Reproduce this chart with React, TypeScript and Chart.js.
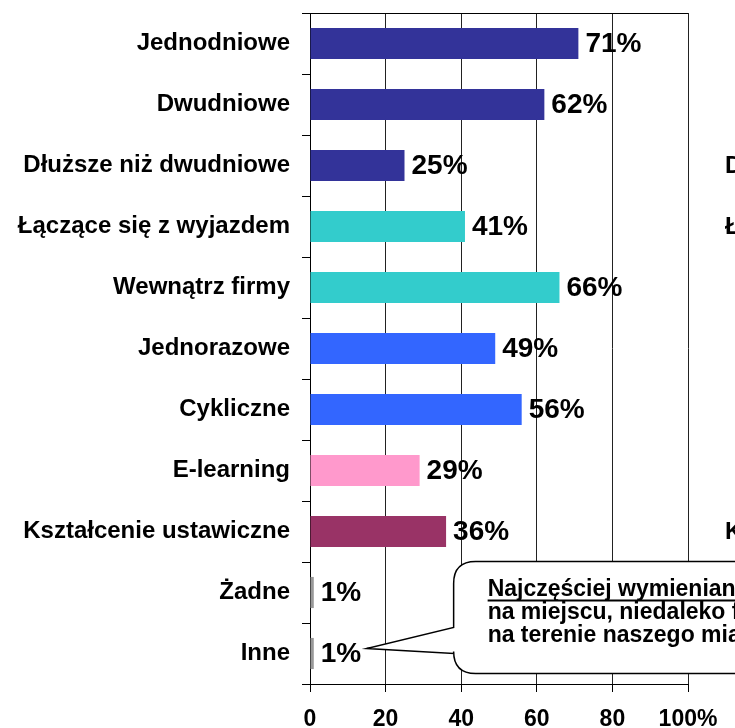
import React, { useEffect, useRef } from "react";
import { Chart, registerables } from "chart.js";

Chart.register(...registerables);

const categories = [
  "Jednodniowe",
  "Dwudniowe",
  "Dłuższe niż dwudniowe",
  "Łączące się z wyjazdem",
  "Wewnątrz firmy",
  "Jednorazowe",
  "Cykliczne",
  "E-learning",
  "Kształcenie ustawiczne",
  "Żadne",
  "Inne",
];
const values = [71, 62, 25, 41, 66, 49, 56, 29, 36, 1, 1];
const barColors = [
  "#333399",
  "#333399",
  "#333399",
  "#33CCCC",
  "#33CCCC",
  "#3366FF",
  "#3366FF",
  "#FF99CC",
  "#993366",
  "#999999",
  "#999999",
];
const xTickLabels = ["0", "20", "40", "60", "80", "100%"];
const calloutLines = [
  "Najczęściej wymieniane miejsca szkoleń:",
  "na miejscu, niedaleko firmy",
  "na terenie naszego miasta",
];
const sideLabelRows = [2, 3, 8];
const sideLabelTexts = [
  "Dłuższe niż dwudniowe",
  "Łączące się z wyjazdem",
  "Kształcenie ustawiczne",
];

const FONT = "'Liberation Sans', Arial, sans-serif";

const overlayPlugin = {
  id: "overlay",
  afterDatasetsDraw(chart: any) {
    const ctx = chart.ctx;
    const meta = chart.getDatasetMeta(0);
    ctx.save();
    ctx.fillStyle = "#000";
    ctx.font = `bold 28px ${FONT}`;
    ctx.textAlign = "left";
    ctx.textBaseline = "middle";
    meta.data.forEach((bar: any, i: number) => {
      ctx.fillText(`${values[i]}%`, bar.x + 7, bar.y + 1);
    });
    ctx.restore();

    // callout
    const xs = chart.scales.x;
    const ys = chart.scales.y;
    const tipX = xs.getPixelForValue(15);
    const tipY = ys.getPixelForValue(10) - 5;
    const left = xs.getPixelForValue(38);
    const top = ys.getPixelForValue(9) - 31;
    const bottom = ys.getPixelForValue(10) + 20;
    const right = chart.width + 60;
    const r = 22;
    const baseTop = top + 66;
    const baseBot = top + 92;
    ctx.save();
    ctx.beginPath();
    ctx.moveTo(left + r, top);
    ctx.lineTo(right, top);
    ctx.lineTo(right, bottom);
    ctx.lineTo(left + r, bottom);
    ctx.quadraticCurveTo(left, bottom, left, bottom - r);
    ctx.lineTo(left, baseBot);
    ctx.lineTo(tipX, tipY);
    ctx.lineTo(left, baseTop);
    ctx.lineTo(left, top + r);
    ctx.quadraticCurveTo(left, top, left + r, top);
    ctx.closePath();
    ctx.fillStyle = "#fff";
    ctx.fill();
    ctx.lineWidth = 1.5;
    ctx.strokeStyle = "#000";
    ctx.stroke();

    ctx.fillStyle = "#000";
    ctx.font = `bold 23px ${FONT}`;
    ctx.textAlign = "left";
    ctx.textBaseline = "alphabetic";
    const tx = left + 34;
    calloutLines.forEach((line, i) => {
      const by = top + 34 + i * 23;
      ctx.fillText(line, tx, by);
      if (i === 0) {
        const w = ctx.measureText(line).width;
        ctx.fillRect(tx, by + 4, w, 2);
      }
    });
    ctx.restore();

    // partially visible labels of neighbouring chart
    ctx.save();
    ctx.fillStyle = "#000";
    ctx.font = `bold 24px ${FONT}`;
    ctx.textAlign = "left";
    ctx.textBaseline = "middle";
    sideLabelRows.forEach((row, i) => {
      ctx.fillText(sideLabelTexts[i], 725, ys.getPixelForValue(row) + 1);
    });
    ctx.restore();
  },
};

export default function App() {
  const canvasRef = useRef<HTMLCanvasElement | null>(null);

  useEffect(() => {
    document.body.style.margin = "0";
    const canvas = canvasRef.current;
    if (!canvas) return;
    const chart = new Chart(canvas, {
      type: "bar",
      data: {
        labels: categories,
        datasets: [
          {
            data: values,
            backgroundColor: barColors,
            borderWidth: 0,
            barPercentage: 0.51,
            categoryPercentage: 1.0,
          },
        ],
      },
      options: {
        indexAxis: "y",
        animation: false,
        responsive: true,
        maintainAspectRatio: false,
        layout: { padding: { top: 13, right: 47, left: 0, bottom: 0 } },
        plugins: {
          legend: { display: false },
          tooltip: { enabled: false },
          title: { display: false },
        },
        scales: {
          x: {
            type: "linear",
            min: 0,
            max: 100,
            afterFit: (s: any) => {
              s.height = 44;
              s.paddingLeft = 0;
              s.paddingRight = 0;
            },
            ticks: {
              stepSize: 20,
              autoSkip: false,
              maxRotation: 0,
              padding: 14,
              color: "#000",
              font: { family: FONT, size: 23, weight: "bold" },
              callback: (_v: any, i: number) => xTickLabels[i],
            },
            grid: {
              color: "#222",
              lineWidth: 1,
              tickLength: 8,
              tickColor: "#000",
            },
            border: { display: true, color: "#000", width: 1 },
          },
          y: {
            type: "category",
            offset: true,
            afterFit: (s: any) => {
              s.width = 310;
              s.paddingTop = 0;
              s.paddingBottom = 0;
            },
            ticks: {
              autoSkip: false,
              padding: 12,
              color: "#000",
              font: { family: FONT, size: 24, weight: "bold" },
            },
            grid: {
              offset: true,
              drawOnChartArea: true,
              color: (c: any) => (c.index === 0 ? "#000" : "rgba(0,0,0,0)"),
              tickLength: 8,
              tickColor: "#000",
              lineWidth: 1,
            },
            border: { display: true, color: "#000", width: 1 },
          },
        },
      },
      plugins: [overlayPlugin],
    });
    return () => chart.destroy();
  }, []);

  return (
    <div style={{ width: 735, height: 728, position: "relative", overflow: "hidden" }}>
      <canvas ref={canvasRef} />
    </div>
  );
}
